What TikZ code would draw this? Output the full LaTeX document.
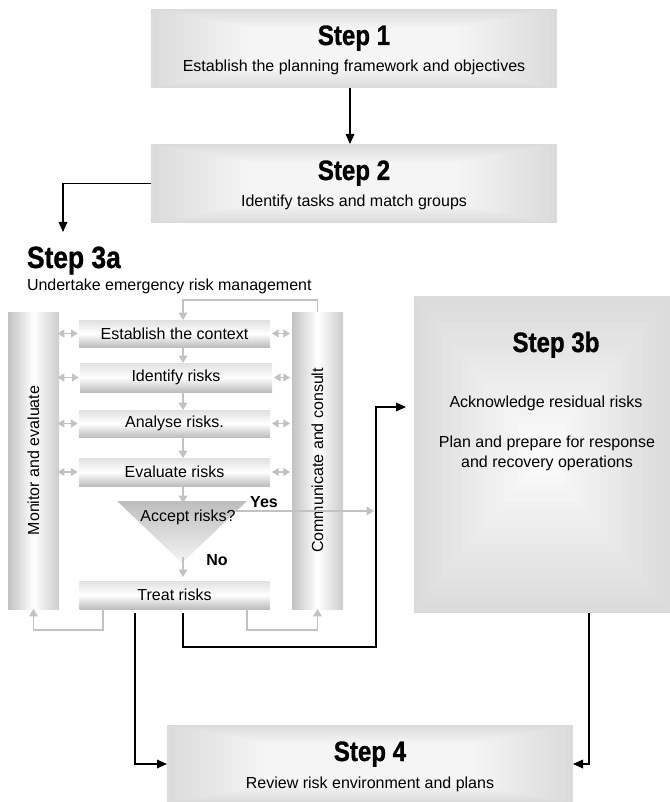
\documentclass[tikz,border=0pt]{standalone}
\usepackage{fontspec}
\setmainfont{Liberation Sans}
\newfontfamily\stepfont{Liberation Sans}[FakeStretch=0.86,FakeBold=1]
\usetikzlibrary{arrows.meta,calc}
\begin{document}
\begin{tikzpicture}[x=0.75pt,y=-0.75pt,
  every node/.style={inner sep=0pt,outer sep=0pt},
  txt/.style={font=\fontsize{12}{15.5}\selectfont},
  lbl/.style={font=\fontsize{12}{15.5}\selectfont\bfseries},
  steptitle/.style={font=\stepfont\bfseries\fontsize{21}{24}\selectfont},
  boxdim/.style 2 args={minimum width=#1*0.75pt,minimum height=#2*0.75pt},
  % nested rectangles growing lighter towards the middle:
  % #1 = number of bands, #2 = inset per band, #3 = edge grey, #4 = grey step
  bands/.style n args={4}{path picture={
      \foreach \i in {0,...,#1}{
        \pgfmathsetmacro\f{\i*#2}
        \pgfmathsetmacro\c{#3-\i*#4}
        \fill[black!\c]
          ($(path picture bounding box.south west)!\f!(path picture bounding box.north east)$)
          rectangle
          ($(path picture bounding box.north east)!\f!(path picture bounding box.south west)$);
      }
  }},
  stepbox/.style={bands={12}{0.02}{14}{0.85}},
  bigbox/.style={bands={16}{0.027}{14}{0.72}},
  taskbox/.style={txt,top color=black!12,bottom color=black!26,middle color=white},
  columnbox/.style={left color=black!24,right color=black!20,middle color=white},
  blk/.style={draw=black,line width=0.9pt,-{Triangle[length=7.5pt,width=6.5pt]}},
  gry/.style={draw=black!24,line width=0.9pt},
  garr/.style={gry,-{Triangle[length=5.5pt,width=6.5pt]}},
  gdbl/.style={gry,{Triangle[length=5pt,width=6pt]}-{Triangle[length=5pt,width=6pt]}}
]
\useasboundingbox (0,0) rectangle (669,802);

% ---- main steps ----
\node[stepbox,boxdim={406}{79}] (s1) at (354,48.5) {};
\node[steptitle,anchor=base] (s1t) at (354,45) {Step 1};
\node[txt,anchor=base] (s1s) at (354,72) {Establish the planning framework and objectives};

\node[stepbox,boxdim={406}{79}] (s2) at (354,183.5) {};
\node[steptitle,anchor=base] (s2t) at (354,180) {Step 2};
\node[txt,anchor=base] (s2s) at (354,207) {Identify tasks and match groups};

\node[stepbox,boxdim={406}{78}] (s4) at (370,764) {};
\node[steptitle,anchor=base] (s4t) at (370,761) {Step 4};
\node[txt,anchor=base] (s4s) at (370,788) {Review risk environment and plans};

\node[bigbox,boxdim={256}{317}] (s3b) at (542,454.5) {};
\node[steptitle,anchor=base] (t3b) at (556,352) {Step 3b};
\node[txt,anchor=base] (b1) at (546,407) {Acknowledge residual risks};
\node[txt,anchor=base] (b2) at (547,447) {Plan and prepare for response};
\node[txt,anchor=base] (b3) at (547,467) {and recovery operations};

% ---- step 3a ----
\node[steptitle,font=\stepfont\bfseries\fontsize{23}{26}\selectfont,anchor=base west] (t3a) at (27,268) {Step 3a};
\node[txt,anchor=base west] (t3as) at (27,290) {Undertake emergency risk management};

\node[columnbox,boxdim={51}{297}] (me) at (33.5,460.5) {};
\node[txt,rotate=90] (met) at (me) {Monitor and evaluate};
\node[columnbox,boxdim={51}{297}] (cc) at (317.5,460.5) {};
\node[txt,rotate=90] (cct) at (cc) {Communicate and consult};

\node[taskbox,boxdim={191}{27}] (ec) at (174.5,333.5) {Establish the context};
\node[taskbox,boxdim={192}{29}] (ir) at (176,377.5) {Identify risks};
\node[taskbox,boxdim={191}{27}] (ar) at (174.5,423.5) {Analyse risks.};
\node[taskbox,boxdim={191}{28}] (er) at (174.5,472) {Evaluate risks};
\node[taskbox,boxdim={190}{28}] (tr) at (174.5,595) {Treat risks};

% decision triangle: a shaded block clipped to the downward triangle
\begin{scope}
  \clip (117,501) -- (247,501) -- (182,563) -- cycle;
  \node[top color=black!26,bottom color=black!4,boxdim={132}{64}] (tri) at (182,532) {};
\end{scope}
\node[txt] (acc) at (188,517) {Accept risks?};
\node[lbl] (yes) at (264,502) {Yes};
\node[lbl] (no) at (217,560) {No};

% ---- helper points ----
\coordinate (ax) at (183,0);
\coordinate (mx) at (350,0);
\coordinate (lx) at (135,0);
\coordinate (rx) at (589,0);
\coordinate (fl) at (103,0);
\coordinate (fr) at (247,0);
\coordinate (in3a) at (63,232);
\coordinate (tritop) at (183,503);
\coordinate (triapex) at (183,557);
\coordinate (yesA) at (236,511);
\coordinate (yesB) at (374,511);
\coordinate (jmid) at (376,647);

% ---- connectors ----
\draw[blk] (s1.south -| mx) -- (s2.north -| mx);
\draw[blk] (s2.west) -| (in3a);

\draw[garr] (cc.north) |- ($(ec.north -| ax)+(0,-20)$) -- (ec.north -| ax);
\foreach \a/\b in {ec/ir,ir/ar,ar/er}
  \draw[garr] (\a.south -| ax) -- (\b.north -| ax);
\draw[garr] (er.south -| ax) -- (tritop);
\draw[garr,shorten >=3pt] (triapex) -- (tr.north -| ax);
\foreach \n in {ec,ir,ar,er}{
  \draw[gdbl,shorten <=-1pt,shorten >=1pt] (me.east |- \n) -- (\n.west);
  \draw[gdbl,shorten <=1.5pt,shorten >=1.5pt] (\n.east) -- (cc.west |- \n);
}
\draw[garr] (yesA) -- (yesB);
\draw[garr] (tr.south -| fl) |- ($(me.south)+(0,21)$) -- (me.south);
\draw[garr] (tr.south -| fr) |- ($(cc.south)+(0,21)$) -- (cc.south);

\draw[blk,shorten <=3pt] (tr.south -| lx) |- (s4.west);
\draw[blk,shorten <=3pt,shorten >=6pt] (tr.south -| ax) |- (jmid) |- ($(s3b.north west)+(0,111)$);
\draw[blk] (s3b.south -| rx) |- (s4.east);
\end{tikzpicture}
\end{document}
